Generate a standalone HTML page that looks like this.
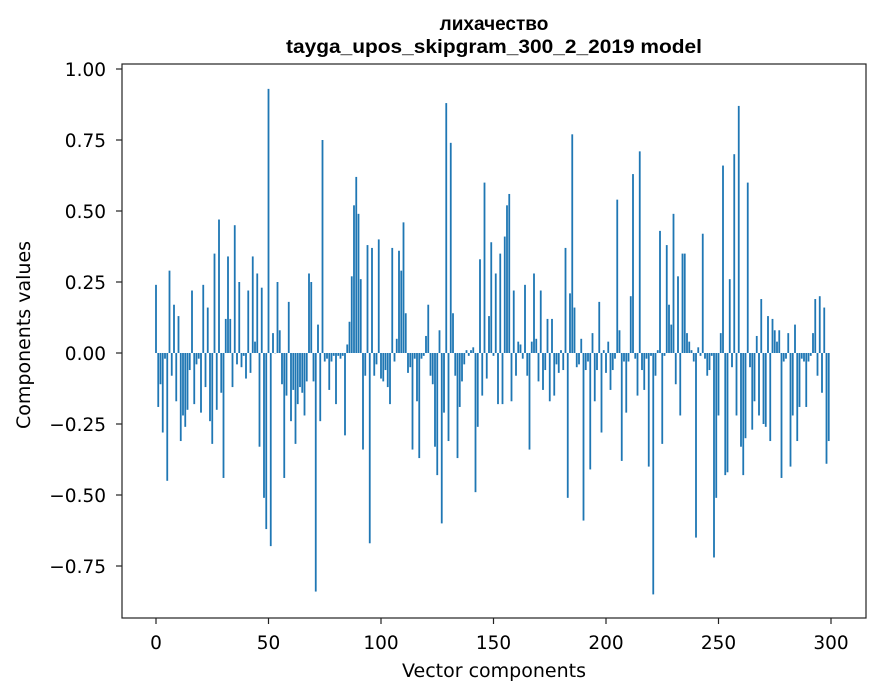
<!DOCTYPE html>
<html><head><meta charset="utf-8"><style>body{margin:0;background:#fff}svg{display:block}</style></head>
<body>
<svg id="s" width="880" height="696" xmlns="http://www.w3.org/2000/svg" font-family="'DejaVu Sans','Liberation Sans',sans-serif">
<rect width="880" height="696" fill="#fff"/>
<text x="494" y="30" text-anchor="middle" font-size="19" font-weight="bold" font-family="'Liberation Sans',sans-serif">лихачество</text>
<text x="494" y="53" text-anchor="middle" font-size="19" font-weight="bold" font-family="'Liberation Sans',sans-serif" textLength="416" lengthAdjust="spacingAndGlyphs">tayga_upos_skipgram_300_2_2019 model</text>
<g id="bars" fill="#1f77b4"></g>
<rect x="122" y="64" width="744" height="554" fill="none" stroke="#222" stroke-width="1.2"/>
<g id="ax" font-size="18.5" fill="#000"></g>
<text x="494" y="677" text-anchor="middle" font-size="19">Vector components</text>
<text transform="translate(30,335) rotate(-90)" text-anchor="middle" font-size="19">Components values</text>
</svg>
<script>
var v=[0.24,-0.19,-0.11,-0.28,-0.02,-0.45,0.29,-0.08,0.17,-0.17,0.13,-0.31,-0.22,-0.26,-0.2,-0.06,0.22,-0.18,-0.04,-0.02,-0.21,0.24,-0.12,0.16,-0.24,-0.32,0.35,-0.2,0.47,-0.14,-0.44,0.12,0.34,0.12,-0.12,0.45,-0.04,0.25,-0.05,-0.01,-0.09,0.22,-0.07,0.34,0.04,0.28,-0.33,0.23,-0.51,-0.62,0.93,-0.68,0.07,0.0,0.25,0.08,-0.11,-0.44,-0.15,0.18,-0.24,-0.13,-0.32,-0.18,-0.12,-0.14,-0.22,-0.1,0.28,0.25,-0.1,-0.84,0.1,-0.24,0.75,-0.03,-0.02,-0.13,-0.03,-0.01,-0.18,-0.01,-0.02,-0.01,-0.29,0.03,0.11,0.27,0.52,0.62,0.49,0.26,-0.34,-0.08,0.38,-0.67,0.37,-0.08,-0.04,0.4,-0.09,-0.1,-0.06,-0.12,-0.18,0.37,-0.03,0.05,0.36,0.29,0.46,0.14,-0.07,-0.05,-0.34,-0.02,-0.17,-0.37,-0.02,-0.01,0.06,0.17,-0.08,-0.11,-0.33,-0.43,0.08,-0.6,-0.21,0.88,-0.31,0.74,0.14,-0.08,-0.37,-0.19,-0.1,-0.04,0.01,-0.01,0.01,0.02,-0.49,-0.26,0.33,-0.15,0.6,-0.09,0.13,0.39,-0.01,0.28,-0.18,0.35,-0.18,0.41,0.52,0.56,-0.17,0.22,-0.08,0.04,0.03,-0.02,0.24,-0.08,-0.34,0.04,0.28,0.05,-0.1,0.22,-0.13,-0.06,0.12,-0.17,0.12,-0.15,-0.04,-0.07,0.01,-0.06,0.37,-0.51,0.21,0.77,0.16,-0.05,-0.04,0.05,-0.59,-0.06,-0.03,-0.41,0.07,-0.17,-0.06,0.18,-0.28,0.01,-0.07,0.04,-0.13,-0.06,-0.02,0.54,0.08,-0.38,-0.03,-0.21,-0.03,0.2,0.63,-0.02,-0.15,0.71,-0.06,-0.13,-0.02,-0.4,-0.01,-0.85,-0.08,0.01,0.43,-0.32,-0.01,0.38,0.17,0.1,0.49,-0.11,0.27,-0.22,0.35,0.35,0.07,0.04,0.01,-0.03,-0.65,0.02,-0.01,0.42,-0.02,-0.08,-0.06,-0.01,-0.72,-0.51,-0.22,0.07,0.66,-0.43,-0.42,0.26,-0.05,0.7,-0.22,0.87,-0.33,-0.43,-0.3,0.6,-0.05,-0.27,-0.17,0.06,-0.22,0.19,-0.25,-0.26,0.13,-0.31,0.12,0.08,0.04,0.08,-0.44,-0.03,-0.02,0.07,-0.4,-0.22,0.1,-0.31,-0.19,-0.02,-0.03,-0.19,-0.03,-0.01,0.07,0.19,-0.08,0.2,-0.14,0.16,-0.39,-0.31,-0.06];
var ns="http://www.w3.org/2000/svg",b=document.getElementById('bars'),ax=document.getElementById('ax');
var z=353,k=284;
for(var i=0;i<v.length&&i<300;i++){var r=document.createElementNS(ns,'rect');var x=156+2.25*i-0.9;var h=Math.abs(v[i])*k;r.setAttribute('x',x);r.setAttribute('width',1.8);r.setAttribute('y',v[i]>0?z-h:z);r.setAttribute('height',Math.max(h,0.3));b.appendChild(r);}
function el(t,a,txt){var e=document.createElementNS(ns,t);for(var q in a)e.setAttribute(q,a[q]);if(txt)e.textContent=txt;ax.appendChild(e);}
[0,50,100,150,200,250,300].forEach(function(t){var x=156+2.25*t;el('line',{x1:x,x2:x,y1:618,y2:624,stroke:'#222','stroke-width':1.2});el('text',{x:x,y:649,'text-anchor':'middle'},String(t));});
[1,0.75,0.5,0.25,0,-0.25,-0.5,-0.75].forEach(function(t){var y=z-t*k;el('line',{x1:116,x2:122,y1:y,y2:y,stroke:'#222','stroke-width':1.2});el('text',{x:106,y:y+7,'text-anchor':'end'},(t<0?'\u2212':'')+Math.abs(t).toFixed(2));});
</script>
</body></html>
